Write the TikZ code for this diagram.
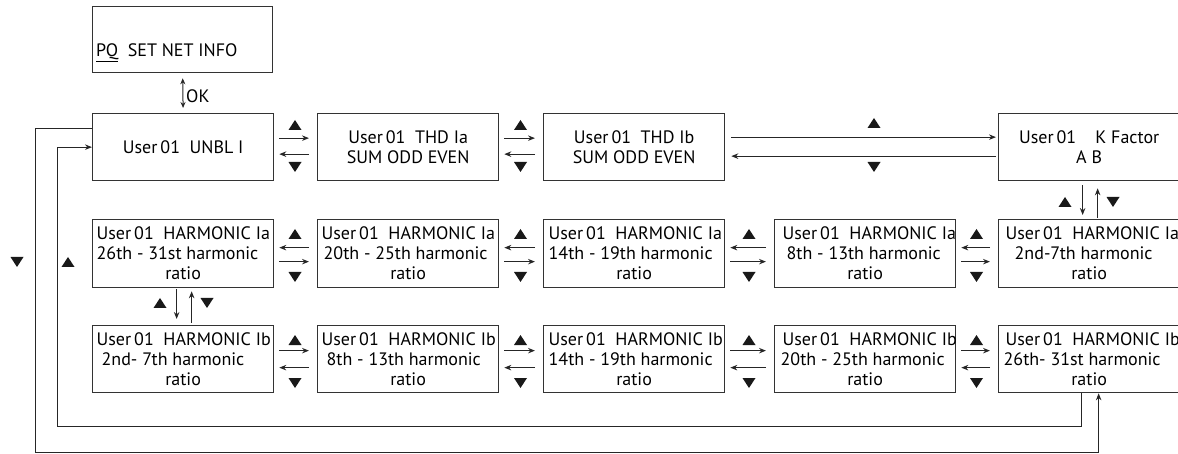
\documentclass[tikz,border=0pt]{standalone}
\usepackage{fontspec}
\setmainfont{PT Sans}
\usetikzlibrary{arrows.meta}
\tikzset{
  txt/.style={font=\fontsize{18}{20}\selectfont, text=black},
  box/.style={txt, draw=black!80, line width=1.3pt, minimum width=181pt, minimum height=67pt, inner sep=0pt, anchor=north west, align=center},
  arr/.style={line width=1pt, draw=black!85, -{Stealth[length=7pt,width=5.5pt]}},
}
\newcommand\tup[2]{\fill[black!90] (#1,#2) ++(0,-5) -- ++(6.5,10) -- ++(-13,0) -- cycle;}
\newcommand\tdn[2]{\fill[black!90] (#1,#2) ++(0,5) -- ++(6.5,-10) -- ++(-13,0) -- cycle;}
\newcommand\hbx[4]{\makebox[173pt][l]{\hspace*{#1pt}#2}\\\makebox[173pt][l]{\hspace*{#3pt}#4}\\\makebox[173pt][c]{ratio}}
\begin{document}
\begin{tikzpicture}[x=1pt,y=-1pt]
\useasboundingbox (0,0) rectangle (1178,454);
% top
\node[box, minimum height=66pt, minimum width=180pt] (pq) at (92,6) {};
\node[txt, anchor=base west, inner sep=0pt] (pqt) at (96,57) {\underline{PQ}\ \ SET NET INFO};
\node[txt, anchor=west, inner sep=0pt] (ok) at (186,96) {OK};
% row 1
\node[box] (unbl) at (92,113) {User\,01\ \ UNBL I};
\node[box] (thda) at (317,113) {User\,01\ \ THD Ia\\SUM ODD EVEN};
\node[box] (thdb) at (543,113) {User\,01\ \ THD Ib\\SUM ODD EVEN};
\node[box] (kf) at (998,113) {User\,01\ \ \ \ K Factor\\A B};
\draw[line width=1pt, draw=black!85, {Stealth[length=6pt,width=5pt]}-{Stealth[length=6pt,width=5pt]}, shorten <=5pt, shorten >=5pt] (pq.south) -- (unbl.north);
% row 2
\node[box, minimum height=68pt] (ha26) at (92,219) {\hbx{0}{User\,01\ \ HARMONIC Ia}{0}{26th - 31st harmonic}};
\node[box, minimum height=68pt] (ha20) at (317,219) {\hbx{0}{User\,01\ \ HARMONIC Ia}{2}{20th - 25th harmonic}};
\node[box, minimum height=68pt] (ha14) at (543,219) {\hbx{1}{User\,01\ \ HARMONIC Ia}{1}{14th - 19th harmonic}};
\node[box, minimum height=68pt] (ha8) at (774,219) {\hbx{4}{User\,01\ \ HARMONIC Ia}{8}{8th - 13th harmonic}};
\node[box, minimum height=68pt] (ha2) at (998,219) {\hbx{3}{User\,01\ \ HARMONIC Ia}{12}{2nd-7th harmonic}};
% row 3
\node[box] (hb2) at (92,325) {\hbx{0}{User\,01\ \ HARMONIC Ib}{5}{2nd- 7th harmonic}};
\node[box] (hb8) at (317,325) {\hbx{0}{User\,01\ \ HARMONIC Ib}{5}{8th - 13th harmonic}};
\node[box] (hb14) at (543,325) {\hbx{1}{User\,01\ \ HARMONIC Ib}{1}{14th - 19th harmonic}};
\node[box] (hb20) at (774,325) {\hbx{4}{User\,01\ \ HARMONIC Ib}{2}{20th - 25th harmonic}};
\node[box] (hb26) at (998,325) {\hbx{3}{User\,01\ \ HARMONIC Ib}{1}{26th- 31st harmonic}};
% row 1 arrows
\foreach \a/\b/\m in {unbl/thda/295, thda/thdb/520.5}{
  \draw[arr, shorten <=5pt, shorten >=8pt] ([yshift=9pt]\a.east) -- ([yshift=9pt]\b.west);
  \draw[arr, shorten <=8pt, shorten >=5pt] ([yshift=-7pt]\b.west) -- ([yshift=-7pt]\a.east);
  \tup{\m}{125} \tdn{\m}{167}
}
\draw[arr, shorten <=6pt, shorten >=2pt] ([yshift=10pt]thdb.east) -- ([yshift=10pt]kf.west);
\draw[arr, shorten <=2pt, shorten >=6pt] ([yshift=-9pt]kf.west) -- ([yshift=-9pt]thdb.east);
\tup{874}{123} \tdn{874}{167}
% K factor <-> row 2
\draw[arr, shorten <=4pt, shorten >=4pt] ([xshift=-6.5pt]kf.south) -- ([xshift=-6.5pt]ha2.north);
\draw[arr, shorten <=1pt, shorten >=7pt] ([xshift=8.5pt]ha2.north) -- ([xshift=8.5pt]kf.south);
\tup{1065}{202} \tdn{1113}{202}
% row 2 arrows (flow leftwards on top)
\foreach \a/\b/\m in {ha26/ha20/295, ha20/ha14/520.5, ha14/ha8/749, ha8/ha2/976.5}{
  \draw[arr, shorten <=8pt, shorten >=5pt] ([yshift=6pt]\b.west) -- ([yshift=6pt]\a.east);
  \draw[arr, shorten <=5pt, shorten >=8pt] ([yshift=-8pt]\a.east) -- ([yshift=-8pt]\b.west);
  \tup{\m}{234} \tdn{\m}{277}
}
% row 2 <-> row 3
\draw[arr, shorten <=1pt, shorten >=6pt] ([xshift=-6.5pt]ha26.south) -- ([xshift=-6.5pt]hb2.north);
\draw[arr, shorten <=2pt, shorten >=3pt] ([xshift=8.5pt]hb2.north) -- ([xshift=8.5pt]ha26.south);
\tup{160}{303} \tdn{207}{303}
% row 3 arrows
\foreach \a/\b/\m in {hb2/hb8/295, hb8/hb14/520.5, hb14/hb20/749, hb20/hb26/976.5}{
  \draw[arr, shorten <=5pt, shorten >=8pt] ([yshift=8.5pt]\a.east) -- ([yshift=8.5pt]\b.west);
  \draw[arr, shorten <=8pt, shorten >=5pt] ([yshift=-8.5pt]\b.west) -- ([yshift=-8.5pt]\a.east);
  \tup{\m}{340} \tdn{\m}{383}
}
% feedback loops
\coordinate (oc) at (35,452);
\coordinate (ic) at (57,426);
\draw[arr] ([yshift=19pt]unbl.west) -| (oc) -| ([xshift=9.5pt]hb26.south);
\draw[arr] ([xshift=-7.5pt]hb26.south) |- (ic) |- (unbl.west);
\tdn{17}{262} \tup{68}{262}
\end{tikzpicture}
\end{document}
